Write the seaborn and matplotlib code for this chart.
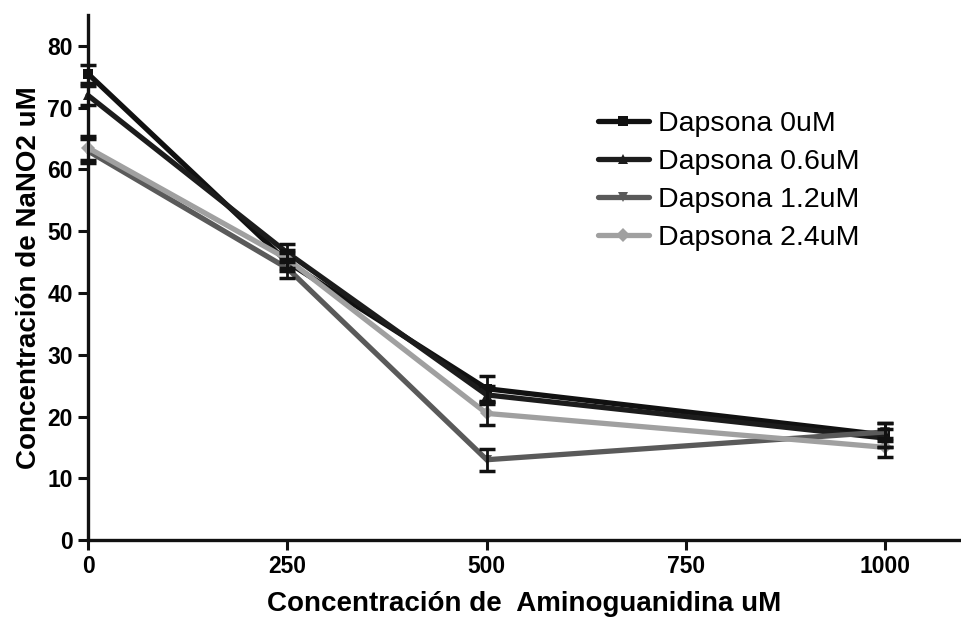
import numpy as np
import pandas as pd
import matplotlib
matplotlib.use("Agg")
import matplotlib.pyplot as plt
import seaborn as sns

# Aminoguanidine doses (uM) and nitrite readings for each dapsone dose
aminoguanidina = [0, 250, 500, 1000]
series = ["Dapsona 0uM", "Dapsona 0.6uM", "Dapsona 1.2uM", "Dapsona 2.4uM"]
nano2_0 = [75.5, 45.0, 24.5, 17.0]
nano2_06 = [72.0, 46.5, 23.5, 16.5]
nano2_12 = [63.0, 44.0, 13.0, 17.5]
nano2_24 = [63.5, 45.5, 20.5, 15.0]
sem_0 = [1.5, 1.5, 2.0, 2.0]
sem_06 = [1.5, 1.5, 1.5, 1.5]
sem_12 = [2.0, 1.5, 1.8, 1.5]
sem_24 = [2.0, 1.5, 1.8, 1.5]

values = [nano2_0, nano2_06, nano2_12, nano2_24]
errors = [sem_0, sem_06, sem_12, sem_24]

rows = []
for name, vals in zip(series, values):
    for x, v in zip(aminoguanidina, vals):
        rows.append({"dose": x, "nano2": v, "grupo": name})
df = pd.DataFrame(rows)

sns.set_style("ticks", {"text.color": "#000000", "axes.labelcolor": "#000000",
                        "xtick.color": "#111111", "ytick.color": "#111111"})
plt.rcParams["font.family"] = ["Liberation Sans", "DejaVu Sans"]

colors = ["#111111", "#1c1c1c", "#5a5a5a", "#a0a0a0"]
markers = ["s", "^", "v", "D"]
palette = dict(zip(series, colors))
marker_map = dict(zip(series, markers))

fig = plt.figure(figsize=(9.62, 6.19), dpi=100)
ax = fig.add_axes([0.0915, 0.1276, 0.906, 0.848])

sns.lineplot(data=df, x="dose", y="nano2", hue="grupo", style="grupo",
             hue_order=series, style_order=series,
             palette=palette, markers=marker_map, dashes=False,
             linewidth=3.8, markersize=7, markeredgewidth=0,
             ax=ax, legend=True, zorder=3)
for line in ax.get_lines():
    line.set_clip_on(False)

for name, vals, errs in zip(series, values, errors):
    eb = ax.errorbar(aminoguanidina, vals, yerr=errs, fmt="none",
                     ecolor="#111111", elinewidth=2.0, capsize=6,
                     capthick=2.5, zorder=4)
    for art in eb.lines[1]:
        art.set_clip_on(False)
    for art in eb.lines[2]:
        art.set_clip_on(False)

ax.set_xlim(0, 1093)
ax.set_ylim(0, 85)
ax.set_xticks([0, 250, 500, 750, 1000])
ax.set_yticks(range(0, 81, 10))
ax.set_xlabel("Concentración de  Aminoguanidina uM", fontsize=20,
              fontweight="bold", labelpad=9, color="#000000")
ax.set_ylabel("Concentración de NaNO2 uM", fontsize=20,
              fontweight="bold", labelpad=4, color="#000000")

for lab in ax.get_xticklabels() + ax.get_yticklabels():
    lab.set_fontweight("bold")
    lab.set_fontsize(16.5)
    lab.set_color("#000000")

for side in ["top", "right"]:
    ax.spines[side].set_visible(False)
for side in ["left", "bottom"]:
    ax.spines[side].set_linewidth(2.4)
    ax.spines[side].set_color("#111111")
ax.tick_params(axis="both", direction="out", length=7, width=2.2,
               colors="#111111", labelcolor="#000000", pad=4)

leg = ax.legend(loc="upper left", bbox_to_anchor=(0.5555, 0.866),
                frameon=False, fontsize=20.5, handlelength=1.8,
                handletextpad=0.3, labelspacing=0.42)
for h in leg.legend_handles:
    h.set_linewidth(3.8)
for t in leg.get_texts():
    t.set_color("#000000")

fig.savefig("out.png", dpi=100)
